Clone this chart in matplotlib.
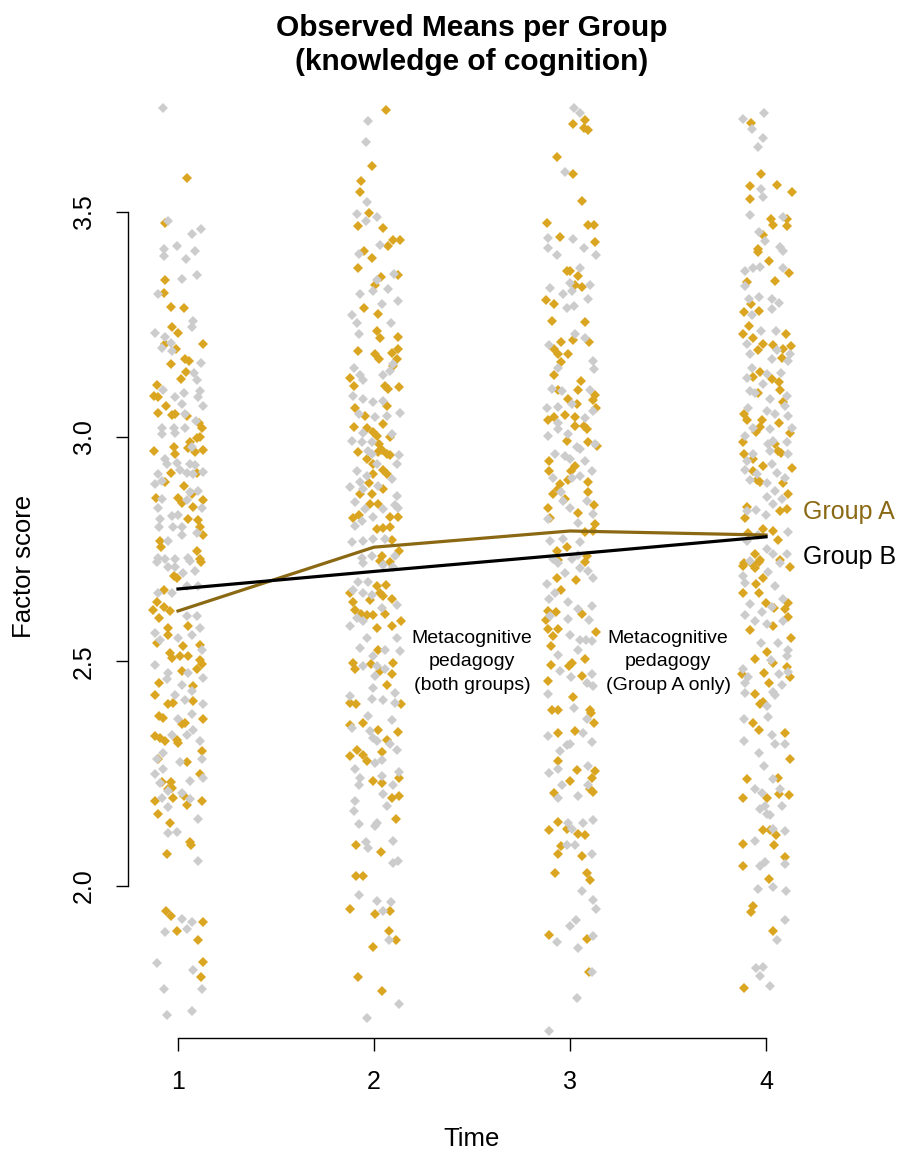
import numpy as np
import matplotlib.pyplot as plt

plt.rcParams['font.family'] = ['Liberation Sans', 'DejaVu Sans']

# observed means per group
times = [1, 2, 3, 4]
mean_a = [2.612, 2.754, 2.790, 2.781]
mean_b = [2.661, 2.700, 2.738, 2.777]

# individual scores: (jitter, score)
group_a_t1 = [
    (0.044, 3.576), (-0.066, 3.475), (-0.066, 3.349), (-0.07, 3.32), (-0.037, 3.288), (0.029, 3.286),
    (-0.032, 3.243), (0.002, 3.231), (-0.066, 3.206), (-0.012, 3.196), (0.129, 3.205), (-0.036, 3.162),
    (0.036, 3.172), (0.056, 3.168), (0.039, 3.144), (0.015, 3.129), (-0.105, 3.115), (-0.12, 3.09),
    (-0.1, 3.087), (-0.061, 3.068), (-0.1, 3.053), (-0.032, 3.048), (-0.015, 3.051), (0.044, 3.046),
    (0.107, 3.031), (0.121, 3.02), (0.095, 2.998), (0.112, 2.999), (0.061, 2.989), (-0.12, 2.967),
    (-0.019, 2.977), (-0.015, 2.961), (0.087, 2.965), (0.129, 2.97), (0.049, 2.974), (-0.036, 2.92),
    (-0.066, 2.898), (0.095, 2.92), (0.032, 2.89), (-0.114, 2.863), (0.002, 2.863), (0.019, 2.853),
    (0.073, 2.872), (0.078, 2.844), (0.129, 2.859), (0.049, 2.816), (0.104, 2.814), (0.112, 2.798),
    (0.129, 2.78), (-0.092, 2.768), (-0.087, 2.754), (0.095, 2.746), (0.112, 2.728),
    (0.117, 2.722), (-0.019, 2.689), (-0.007, 2.685), (-0.07, 2.659), (-0.109, 2.633), (-0.126, 2.615),
    (-0.07, 2.622), (-0.041, 2.611), (-0.097, 2.596), (-0.053, 2.574), (-0.109, 2.541), (-0.049, 2.559),
    (0.053, 2.578), (0.112, 2.537), (0.027, 2.534), (-0.041, 2.519), (-0.032, 2.508), (0.01, 2.511),
    (0.053, 2.511), (0.112, 2.504), (0.121, 2.493), (0.095, 2.482), (0.019, 2.478), (-0.097, 2.452),
    (0.078, 2.445), (-0.117, 2.426), (-0.049, 2.404), (-0.024, 2.408), (0.078, 2.412), (-0.097, 2.378),
    (-0.075, 2.374), (0.129, 2.371), (0.019, 2.36), (0.036, 2.362), (-0.117, 2.334), (-0.092, 2.33),
    (-0.066, 2.323), (-0.007, 2.326), (0.002, 2.319), (0.121, 2.3), (-0.104, 2.282), (0.044, 2.276),
    (0.112, 2.249), (-0.083, 2.232), (-0.036, 2.232), (-0.029, 2.219), (-0.049, 2.215), (-0.117, 2.19),
    (-0.024, 2.195), (0.032, 2.201), (0.044, 2.18), (0.121, 2.19), (-0.1, 2.16), (-0.041, 2.141),
    (0.061, 2.098), (0.066, 2.091), (-0.058, 2.071), (-0.063, 1.945), (-0.036, 1.934), (-0.007, 1.901),
    (0.129, 1.921), (0.1, 1.881), (0.129, 1.832), (0.117, 1.797),
]
group_b_t1 = [
    (-0.075, 3.732), (-0.049, 3.48), (0.073, 3.45), (0.117, 3.462), (-0.07, 3.418), (-0.007, 3.423),
    (0.087, 3.412), (-0.07, 3.401), (0.041, 3.396), (0.022, 3.351), (0.097, 3.359), (-0.1, 3.317),
    (0.075, 3.258), (0.073, 3.243), (-0.117, 3.231), (-0.066, 3.221), (-0.083, 3.198), (-0.036, 3.209),
    (-0.029, 3.19), (0.117, 3.164), (0.083, 3.142), (0.095, 3.127), (-0.075, 3.103), (-0.015, 3.087),
    (0.032, 3.096), (0.112, 3.101), (0.104, 3.087), (0.019, 3.072), (0.129, 3.068), (0.036, 3.05),
    (0.09, 3.035), (-0.083, 3.02), (-0.019, 3.02), (0.036, 3.019), (-0.083, 3.005), (-0.015, 3.009),
    (0.07, 2.977), (-0.066, 2.95), (-0.058, 2.939), (-0.007, 2.942), (0.061, 2.939), (0.087, 2.937),
    (-0.1, 2.916), (-0.117, 2.894), (-0.083, 2.902), (0.01, 2.925), (0.044, 2.92), (0.078, 2.916),
    (0.129, 2.922), (0.104, 2.879), (0.061, 2.876), (-0.083, 2.861), (0.044, 2.859), (-0.1, 2.842),
    (0.121, 2.842), (-0.032, 2.824), (0.002, 2.826), (-0.092, 2.817), (-0.097, 2.798), (0.095, 2.785),
    (-0.024, 2.798), (0.019, 2.798), (-0.049, 2.768), (0.019, 2.78), (-0.1, 2.731), (-0.066, 2.728),
    (-0.015, 2.728), (0.053, 2.731), (0.061, 2.724),
    (-0.109, 2.72), (-0.049, 2.711), (0.027, 2.696), (0.087, 2.7), (-0.015, 2.711), (-0.1, 2.652),
    (-0.032, 2.652), (0.044, 2.667), (0.104, 2.667), (0.044, 2.6), (0.095, 2.6), (-0.117, 2.563),
    (0.002, 2.552), (0.07, 2.559), (0.112, 2.574), (-0.092, 2.548), (0.121, 2.526), (-0.117, 2.491),
    (-0.049, 2.474), (0.053, 2.474), (0.129, 2.463), (-0.058, 2.46), (0.019, 2.448), (0.07, 2.434),
    (-0.015, 2.426), (0.036, 2.415), (0.129, 2.406), (0.07, 2.382), (0.002, 2.371), (-0.032, 2.337),
    (0.044, 2.337), (0.078, 2.347), (0.112, 2.323), (-0.075, 2.297), (-0.109, 2.283), (0.01, 2.275),
    (0.121, 2.282), (-0.117, 2.249), (-0.075, 2.26), (0.129, 2.241), (-0.092, 2.23), (0.061, 2.234),
    (-0.049, 2.212), (0.019, 2.208), (0.061, 2.193), (-0.083, 2.195), (-0.053, 2.175), (0.104, 2.15),
    (-0.053, 2.119), (-0.007, 2.121), (0.1, 2.056), (-0.066, 1.897), (0.019, 1.927), (0.044, 1.905),
    (0.07, 1.921), (-0.109, 1.829), (0.078, 1.814), (-0.07, 1.771), (0.121, 1.771), (-0.058, 1.714),
    (0.073, 1.721),
]
group_a_t2 = [
    (0.061, 3.727), (-0.009, 3.603), (-0.068, 3.569), (-0.071, 3.545), (-0.024, 3.497), (-0.083, 3.468),
    (0.048, 3.464), (0.099, 3.437), (0.133, 3.437), (0.073, 3.423), (-0.051, 3.412), (-0.012, 3.397),
    (-0.08, 3.374), (0.034, 3.354), (0.124, 3.359), (0.005, 3.338), (-0.049, 3.286), (0.022, 3.273),
    (0.017, 3.236), (0.031, 3.22), (0.124, 3.221), (-0.08, 3.19), (0.005, 3.184), (0.027, 3.172),
    (0.09, 3.187), (0.124, 3.196), (0.116, 3.172), (0.099, 3.157), (-0.122, 3.13), (-0.102, 3.112),
    (0.056, 3.112), (0.073, 3.105), (0.129, 3.11), (0.068, 3.068), (-0.097, 3.063), (-0.046, 3.046),
    (-0.102, 3.021), (-0.037, 3.02), (0.048, 3.029), (-0.003, 3.011), (0.014, 3.001), (0.082, 2.999),
    (0.027, 2.983), (0.039, 2.97), (-0.08, 2.965), (0.022, 2.965), (0.065, 2.962), (0.082, 2.959),
    (-0.037, 2.95), (-0.003, 2.939), (0.048, 2.925), (0.065, 2.916), (-0.007, 2.916), (-0.024, 2.896),
    (0.048, 2.883), (-0.071, 2.872), (-0.012, 2.873), (-0.02, 2.851), (0.022, 2.851), (-0.105, 2.819),
    (-0.075, 2.826), (0.082, 2.822), (0.124, 2.822), (0.014, 2.794), (0.048, 2.797), (0.082, 2.798),
    (0.09, 2.77), (0.039, 2.735), (0.129, 2.746), (0.031, 2.724),
    (0.082, 2.722), (-0.122, 2.652), (0.014, 2.667), (0.061, 2.67), (0.031, 2.652), (0.048, 2.646),
    (0.09, 2.639), (-0.109, 2.633), (-0.02, 2.637), (-0.097, 2.615), (-0.068, 2.606), (-0.037, 2.604),
    (-0.003, 2.604), (0.056, 2.606), (0.136, 2.589), (0.09, 2.579), (0.014, 2.574), (0.022, 2.526),
    (-0.105, 2.497), (-0.097, 2.482), (-0.017, 2.495), (0.099, 2.497), (0.031, 2.478), (0.09, 2.471),
    (0.065, 2.448), (-0.122, 2.408), (-0.092, 2.404), (0.139, 2.406), (-0.054, 2.362), (-0.122, 2.358),
    (0.022, 2.347), (0.124, 2.343), (0.065, 2.326), (-0.088, 2.303), (-0.054, 2.291), (-0.037, 2.278),
    (-0.122, 2.289), (0.039, 2.298), (0.129, 2.241), (-0.003, 2.234), (0.039, 2.229), (0.09, 2.197),
    (0.129, 2.201), (0.112, 2.149), (-0.092, 2.091), (0.034, 2.075), (-0.092, 2.023), (-0.054, 2.023),
    (-0.122, 1.95), (0.005, 1.938), (0.082, 1.945), (0.078, 1.901), (0.112, 1.881), (-0.003, 1.864),
    (-0.08, 1.797), (0.039, 1.766),
]
group_b_t2 = [
    (-0.029, 3.702), (-0.041, 3.656), (-0.034, 3.522), (-0.088, 3.495), (-0.041, 3.48), (0.014, 3.488),
    (0.031, 3.427), (-0.075, 3.406), (0.014, 3.349), (0.102, 3.362), (-0.007, 3.323), (-0.071, 3.317),
    (0.073, 3.329), (0.039, 3.295), (0.124, 3.301), (-0.114, 3.27), (-0.088, 3.253), (0.085, 3.253),
    (-0.075, 3.229), (-0.102, 3.153), (-0.071, 3.138), (-0.054, 3.125), (0.048, 3.138), (0.082, 3.146),
    (0.095, 3.162), (-0.109, 3.09), (-0.054, 3.083), (-0.003, 3.076), (0.048, 3.079), (0.133, 3.053),
    (-0.075, 3.05), (0.005, 3.044), (0.065, 3.046), (-0.054, 3.009), (-0.114, 2.99), (-0.063, 2.987),
    (-0.012, 2.987), (0.09, 3.005), (-0.029, 2.968), (-0.012, 2.961), (0.129, 2.959), (0.116, 2.939),
    (-0.088, 2.924), (-0.037, 2.913), (0.014, 2.939), (0.09, 2.905), (-0.122, 2.887), (-0.071, 2.898),
    (-0.054, 2.883), (0.022, 2.89), (0.116, 2.868), (-0.097, 2.854), (-0.046, 2.839), (0.107, 2.848),
    (-0.097, 2.802), (-0.063, 2.813), (-0.007, 2.822), (0.048, 2.839), (0.124, 2.842), (-0.11, 2.765),
    (-0.054, 2.768), (-0.003, 2.772), (0.056, 2.772), (-0.063, 2.73), (-0.012, 2.735), (0.107, 2.735),
    (-0.054, 2.719), (0.048, 2.715), (0.099, 2.711), (-0.08, 2.676), (-0.029, 2.676), (-0.105, 2.659),
    (-0.054, 2.652), (-0.012, 2.648), (0.116, 2.626), (-0.088, 2.596), (-0.054, 2.589), (0.039, 2.619),
    (-0.122, 2.578), (-0.037, 2.552), (0.116, 2.552), (-0.071, 2.53), (-0.003, 2.511), (0.056, 2.526),
    (0.133, 2.522), (-0.054, 2.489), (0.014, 2.489), (0.005, 2.467), (0.056, 2.482), (-0.003, 2.441),
    (0.107, 2.43), (-0.122, 2.423), (-0.012, 2.417), (0.044, 2.415), (0.107, 2.408), (-0.029, 2.378),
    (0.09, 2.369), (-0.114, 2.352), (-0.02, 2.345), (-0.003, 2.33), (0.014, 2.323), (0.082, 2.315),
    (0.116, 2.303), (-0.097, 2.26), (-0.071, 2.241), (0.039, 2.281), (0.005, 2.273), (0.129, 2.254),
    (-0.075, 2.224), (0.039, 2.245), (0.048, 2.204), (0.099, 2.224), (-0.097, 2.19), (-0.102, 2.167),
    (0.065, 2.178), (-0.075, 2.138), (0.005, 2.133), (0.014, 2.141), (-0.041, 2.098), (-0.029, 2.084),
    (0.099, 2.101), (0.099, 2.051), (0.124, 2.056), (-0.075, 1.98), (0.014, 1.967), (0.085, 1.965),
    (0.044, 1.945), (0.078, 1.881), (0.129, 1.738), (-0.037, 1.706),
]
group_a_t3 = [
    (0.077, 3.704), (0.017, 3.695), (0.073, 3.687), (0.09, 3.682), (-0.068, 3.623), (0.017, 3.584),
    (0.063, 3.525), (-0.119, 3.475), (0.094, 3.47), (0.124, 3.471), (-0.051, 3.443), (0.128, 3.434),
    (-0.017, 3.369), (0.0, 3.368), (0.039, 3.357), (0.026, 3.337), (0.063, 3.332), (-0.124, 3.303),
    (-0.08, 3.294), (-0.094, 3.258), (0.077, 3.255), (-0.046, 3.211), (0.017, 3.214), (0.097, 3.211),
    (-0.08, 3.194), (-0.06, 3.183), (-0.012, 3.184), (-0.046, 3.167), (-0.08, 3.138), (0.056, 3.124),
    (-0.06, 3.103), (0.043, 3.103), (0.128, 3.092), (-0.009, 3.083), (0.119, 3.081), (0.034, 3.073),
    (0.131, 3.064), (-0.111, 3.038), (-0.08, 3.044), (-0.026, 3.048), (0.026, 3.044), (0.073, 3.024),
    (0.085, 3.016), (0.026, 3.024), (-0.017, 2.99), (0.136, 2.979), (0.094, 2.987), (-0.107, 2.946),
    (-0.107, 2.924), (0.026, 2.935), (0.005, 2.924), (-0.012, 2.903), (-0.051, 2.894), (-0.06, 2.883),
    (0.09, 2.898), (-0.085, 2.872), (0.094, 2.876), (-0.026, 2.861), (-0.114, 2.842), (0.043, 2.831),
    (0.124, 2.848), (-0.102, 2.819), (0.128, 2.805), (0.077, 2.787), (0.119, 2.791), (-0.068, 2.746),
    (-0.017, 2.754), (0.085, 2.735), (-0.06, 2.725),
    (0.077, 2.722), (-0.068, 2.685), (0.029, 2.68), (-0.046, 2.659), (-0.114, 2.611), (-0.073, 2.609),
    (-0.124, 2.593), (0.06, 2.606), (-0.114, 2.571), (-0.063, 2.572), (-0.085, 2.556), (0.131, 2.565),
    (-0.097, 2.535), (0.077, 2.506), (0.009, 2.497), (-0.005, 2.489), (-0.097, 2.491), (0.063, 2.467),
    (-0.114, 2.456), (0.017, 2.421), (-0.094, 2.392), (-0.063, 2.392), (0.102, 2.392), (0.107, 2.384),
    (0.124, 2.362), (-0.06, 2.341), (0.026, 2.345), (-0.06, 2.278), (0.034, 2.258), (0.128, 2.256),
    (0.111, 2.241), (0.0, 2.234), (-0.08, 2.208), (0.102, 2.217), (0.119, 2.21), (-0.107, 2.125),
    (-0.06, 2.143), (-0.017, 2.128), (0.043, 2.116), (0.077, 2.113), (-0.046, 2.09), (-0.063, 2.071),
    (0.06, 2.067), (-0.077, 2.03), (0.085, 2.029), (0.102, 2.014), (-0.107, 1.891), (0.085, 1.882),
    (0.097, 1.808),
]
group_b_t3 = [
    (0.022, 3.732), (0.051, 3.719), (-0.026, 3.588), (-0.111, 3.442), (-0.111, 3.42), (0.017, 3.44),
    (0.073, 3.42), (-0.068, 3.405), (0.131, 3.403), (0.051, 3.374), (0.0, 3.342), (0.102, 3.338),
    (-0.102, 3.331), (-0.034, 3.317), (0.009, 3.323), (0.094, 3.307), (-0.017, 3.286), (0.022, 3.29),
    (0.026, 3.229), (0.077, 3.22), (-0.107, 3.204), (0.119, 3.169), (0.124, 3.15), (-0.06, 3.152),
    (-0.094, 3.107), (-0.039, 3.101), (0.102, 3.103), (-0.119, 3.064), (-0.06, 3.066), (0.009, 3.072),
    (0.119, 3.057), (-0.06, 3.031), (0.077, 3.042), (-0.009, 3.005), (-0.111, 3.001), (-0.06, 3.016),
    (0.034, 2.976), (0.051, 2.972), (0.128, 2.983), (-0.077, 2.961), (-0.026, 2.957), (0.0, 2.95),
    (0.077, 2.945), (0.111, 2.924), (-0.085, 2.909), (0.009, 2.909), (0.051, 2.913), (-0.046, 2.876),
    (-0.034, 2.857), (0.085, 2.856), (-0.114, 2.817), (0.0, 2.842), (0.119, 2.828), (0.043, 2.807),
    (-0.102, 2.768), (-0.034, 2.772), (0.051, 2.765), (-0.085, 2.728), (0.009, 2.728), (0.043, 2.737),
    (-0.06, 2.719), (-0.026, 2.696), (0.051, 2.707), (0.094, 2.7), (0.119, 2.685), (-0.119, 2.673),
    (-0.077, 2.652), (-0.107, 2.639), (-0.012, 2.633), (0.043, 2.616), (0.111, 2.624), (-0.102, 2.6),
    (-0.012, 2.594), (0.097, 2.593), (0.0, 2.559), (0.051, 2.548), (0.08, 2.548), (0.111, 2.545),
    (-0.06, 2.515), (0.043, 2.526), (-0.051, 2.478), (0.005, 2.466), (0.111, 2.471), (0.085, 2.451),
    (-0.111, 2.428), (0.119, 2.445), (0.022, 2.397), (0.085, 2.371), (-0.114, 2.334), (0.068, 2.341),
    (-0.017, 2.313), (0.0, 2.317), (0.111, 2.32), (-0.051, 2.301), (-0.107, 2.252), (-0.06, 2.26),
    (0.094, 2.267), (-0.043, 2.224), (0.039, 2.201), (-0.06, 2.197), (0.094, 2.224), (-0.009, 2.141),
    (0.068, 2.141), (0.119, 2.147), (0.009, 2.127), (-0.017, 2.091), (0.026, 2.091), (0.114, 2.071),
    (0.06, 1.988), (0.119, 1.968), (0.131, 1.95), (0.0, 1.912), (0.029, 1.925), (-0.068, 1.876),
    (0.039, 1.862), (0.119, 1.89), (0.111, 1.808), (0.034, 1.751), (-0.107, 1.677),
]
group_a_t4 = [
    (-0.078, 3.697), (-0.027, 3.584), (-0.082, 3.557), (0.058, 3.56), (0.131, 3.544), (-0.082, 3.529),
    (0.024, 3.485), (0.037, 3.47), (0.105, 3.485), (0.105, 3.468), (-0.014, 3.449), (-0.039, 3.418),
    (-0.039, 3.411), (0.017, 3.391), (0.119, 3.364), (0.046, 3.346), (-0.099, 3.344), (-0.112, 3.278),
    (-0.078, 3.295), (-0.034, 3.28), (-0.119, 3.229), (-0.085, 3.246), (-0.065, 3.22), (-0.014, 3.206),
    (0.102, 3.229), (0.037, 3.204), (0.085, 3.196), (0.126, 3.201), (0.08, 3.174), (-0.039, 3.192),
    (0.029, 3.129), (-0.031, 3.144), (0.068, 3.122), (0.071, 3.103), (-0.039, 3.096), (-0.065, 3.132),
    (0.088, 3.076), (-0.112, 3.05), (-0.095, 3.038), (-0.022, 3.038), (0.068, 3.031), (-0.031, 3.021),
    (-0.051, 3.011), (0.122, 3.009), (-0.119, 2.987), (0.046, 2.983), (0.063, 2.968), (0.075, 2.964),
    (-0.112, 2.961), (-0.065, 2.95), (-0.017, 2.935), (0.131, 2.93), (-0.065, 2.924), (-0.048, 2.903),
    (-0.031, 2.898), (0.088, 2.896), (0.114, 2.873), (-0.095, 2.844), (0.071, 2.834), (0.105, 2.839),
    (-0.107, 2.819), (-0.017, 2.794), (0.034, 2.791), (0.063, 2.77), (-0.09, 2.785), (-0.056, 2.739),
    (-0.112, 2.718), (-0.031, 2.725), (0.071, 2.725),
    (-0.116, 2.713), (-0.073, 2.717), (-0.056, 2.707), (-0.034, 2.722), (0.122, 2.71), (-0.051, 2.673),
    (-0.017, 2.685), (-0.116, 2.652), (-0.034, 2.652), (0.0, 2.63), (0.114, 2.63), (0.097, 2.616),
    (0.114, 2.599), (0.041, 2.619), (0.037, 2.578), (-0.082, 2.569), (0.126, 2.552), (0.007, 2.52),
    (-0.056, 2.505), (-0.01, 2.474), (0.037, 2.497), (0.105, 2.488), (0.122, 2.466), (-0.124, 2.471),
    (0.017, 2.451), (-0.056, 2.428), (-0.031, 2.406), (-0.017, 2.409), (-0.065, 2.362), (-0.034, 2.347),
    (0.097, 2.34), (0.122, 2.282), (-0.099, 2.238), (0.063, 2.241), (-0.119, 2.197), (0.003, 2.195),
    (0.068, 2.204), (0.119, 2.202), (-0.014, 2.125), (0.02, 2.125), (0.051, 2.113), (0.041, 2.091),
    (-0.119, 2.093), (-0.116, 2.045), (0.097, 2.064), (0.017, 2.016), (-0.065, 1.956), (-0.078, 1.943),
    (0.037, 1.901), (-0.112, 1.773),
]
group_b_t4 = [
    (-0.01, 3.719), (-0.119, 3.707), (-0.073, 3.685), (-0.017, 3.664), (-0.039, 3.645), (-0.027, 3.551),
    (-0.017, 3.534), (-0.082, 3.492), (0.085, 3.488), (-0.034, 3.455), (-0.005, 3.436), (0.071, 3.421),
    (0.085, 3.414), (-0.107, 3.369), (-0.065, 3.375), (-0.031, 3.377), (0.088, 3.375), (-0.107, 3.334),
    (-0.085, 3.307), (-0.034, 3.31), (0.029, 3.307), (0.068, 3.298), (0.029, 3.283), (-0.073, 3.27),
    (-0.027, 3.236), (0.051, 3.236), (-0.099, 3.206), (-0.082, 3.183), (0.054, 3.192), (0.122, 3.184),
    (0.029, 3.172), (0.114, 3.169), (-0.073, 3.152), (0.003, 3.14), (0.075, 3.142), (-0.099, 3.13),
    (-0.082, 3.101), (-0.056, 3.096), (-0.014, 3.116), (0.02, 3.083), (0.105, 3.09), (0.097, 3.068),
    (0.003, 3.057), (-0.09, 3.064), (-0.065, 3.02), (0.046, 3.05), (0.114, 3.046), (0.02, 3.016),
    (0.131, 3.02), (-0.107, 3.001), (0.012, 2.984), (0.037, 2.99), (0.105, 2.987), (-0.099, 2.946),
    (-0.065, 2.961), (0.02, 2.968), (0.114, 2.961), (-0.107, 2.925), (-0.048, 2.916), (0.029, 2.939),
    (0.054, 2.92), (-0.082, 2.903), (0.097, 2.909), (0.003, 2.896), (0.003, 2.866), (0.046, 2.879),
    (0.08, 2.861), (-0.099, 2.835), (-0.051, 2.836), (0.0, 2.826), (0.037, 2.851), (0.114, 2.787),
    (-0.099, 2.768), (-0.039, 2.78), (0.003, 2.75), (0.037, 2.739), (0.105, 2.739), (-0.082, 2.724),
    (-0.116, 2.689), (0.012, 2.698), (0.071, 2.719), (0.046, 2.667), (-0.107, 2.674), (-0.082, 2.628),
    (0.085, 2.639), (0.029, 2.622), (-0.022, 2.609), (-0.107, 2.604), (-0.056, 2.589), (0.003, 2.582),
    (0.088, 2.589), (-0.027, 2.541), (0.063, 2.541), (0.114, 2.526), (0.105, 2.511), (0.024, 2.502),
    (-0.116, 2.482), (0.114, 2.476), (-0.09, 2.466), (-0.107, 2.451), (0.068, 2.471), (0.037, 2.431),
    (0.08, 2.448), (-0.107, 2.43), (0.003, 2.4), (0.046, 2.426), (-0.112, 2.371), (0.012, 2.377),
    (0.029, 2.337), (-0.112, 2.323), (0.046, 2.317), (0.097, 2.315), (-0.034, 2.295), (-0.01, 2.267),
    (0.037, 2.238), (-0.056, 2.215), (-0.022, 2.208), (0.071, 2.215), (-0.031, 2.171), (0.003, 2.16),
    (0.02, 2.158), (0.08, 2.178), (-0.005, 2.178), (-0.056, 2.101), (0.097, 2.123), (0.037, 2.128),
    (0.097, 2.049), (-0.031, 2.045), (-0.005, 2.054), (0.037, 1.997), (-0.039, 1.993), (0.102, 1.988),
    (0.097, 1.925), (0.054, 1.879), (-0.051, 1.817), (-0.017, 1.819), (-0.031, 1.799), (0.02, 1.777),
]

scores_a = [group_a_t1, group_a_t2, group_a_t3, group_a_t4]
scores_b = [group_b_t1, group_b_t2, group_b_t3, group_b_t4]

col_a_pts = '#DAA520'
col_b_pts = '#CCCCCC'
col_a_line = '#8B6914'

fig = plt.figure(figsize=(8.98, 11.56), dpi=100)
ax = fig.add_axes([128/898, 1 - 1038/1156, 688/898, 943/1156])

for t, pa, pb in zip(times, scores_a, scores_b):
    pa = np.array(pa)
    pb = np.array(pb)
    ax.plot(t + pa[:, 0], pa[:, 1], 'D', ms=4.8, mew=0, color=col_a_pts, clip_on=False)
    ax.plot(t + pb[:, 0], pb[:, 1], 'D', ms=4.8, mew=0, color=col_b_pts, clip_on=False)

ax.plot(times, mean_a, color=col_a_line, lw=2.3, zorder=5)
ax.plot(times, mean_b, color='black', lw=2.3, zorder=5)

ax.text(4.19, 2.832, 'Group A', color=col_a_line, fontsize=18, ha='left', va='center', clip_on=False)
ax.text(4.19, 2.732, 'Group B', color='black', fontsize=18, ha='left', va='center', clip_on=False)

ax.text(2.5, 2.499, 'Metacognitive\npedagogy\n(both groups)', fontsize=14, ha='center', va='center',
        linespacing=1.5, zorder=6)
ax.text(3.5, 2.499, 'Metacognitive\npedagogy\n(Group A only)', fontsize=14, ha='center', va='center',
        linespacing=1.5, zorder=6)

ax.set_xlim(0.745, 4.255)
ax.set_ylim(1.662, 3.76)
for s in ['top', 'right']:
    ax.spines[s].set_visible(False)
ax.spines['left'].set_bounds(2.0, 3.5)
ax.spines['bottom'].set_bounds(1, 4)
ax.spines['left'].set_linewidth(1.0)
ax.spines['bottom'].set_linewidth(1.0)
ax.set_xticks(times)
ax.set_yticks([2.0, 2.5, 3.0, 3.5])
ax.set_yticklabels(['2.0', '2.5', '3.0', '3.5'], rotation=90, va='center')
ax.tick_params(axis='both', labelsize=18, length=9, width=1.0)
ax.tick_params(axis='x', pad=14)
ax.tick_params(axis='y', pad=14)
ax.set_xlabel('Time', fontsize=18.5, labelpad=24)
ax.set_ylabel('Factor score', fontsize=18.5, labelpad=26)

fig.text(472/898, 1 - 45/1156, 'Observed Means per Group\n(knowledge of cognition)', fontsize=21.5,
         fontweight='bold', ha='center', va='center', linespacing=1.25)

fig.savefig('out.png', dpi=100)
